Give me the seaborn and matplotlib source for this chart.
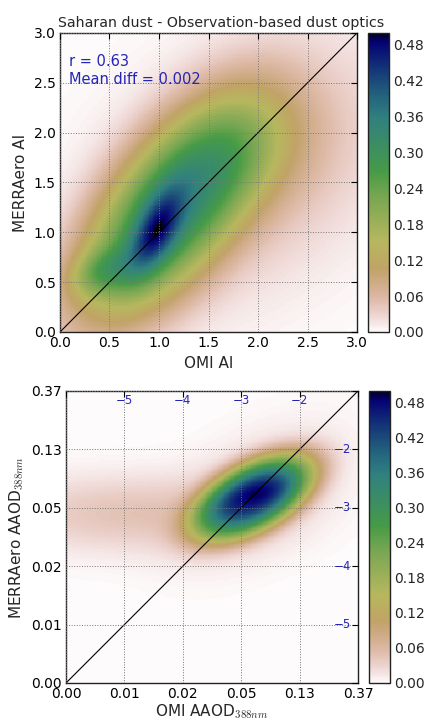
import numpy as np
import matplotlib
matplotlib.use("Agg")
import matplotlib.pyplot as plt
import seaborn as sns

sns.set_style("white")
plt.rcParams["font.family"] = ["DejaVu Sans"]
plt.rcParams["mathtext.fontset"] = "cm"

# --- Aerosol index panel: density blobs
# centre (x, y), spread (x, y), correlation, peak height, profile sharpness
ai_mx = [1.10, 0.97, 0.42, 1.90, 1.90]
ai_my = [1.20, 1.00, 0.60, 1.85, 1.60]
ai_sx = [0.68, 0.19, 0.22, 0.50, 1.00]
ai_sy = [0.80, 0.30, 0.17, 0.45, 0.90]
ai_rho = [0.62, 0.60, 0.30, 0.20, 0.40]
ai_amp = [0.28, 0.19, 0.10, 0.06, 0.05]
ai_shape = [1.2, 1.0, 1.0, 1.0, 1.0]
ai_ticks = [0.0, 0.5, 1.0, 1.5, 2.0, 2.5, 3.0]
ai_ticklabels = ["0.0", "0.5", "1.0", "1.5", "2.0", "2.5", "3.0"]

# --- AAOD panel, in ln(AAOD) space
aaod_mx = [-2.80, -2.72, -5.00, -2.70]
aaod_my = [-2.82, -2.75, -3.10, -2.75]
aaod_sx = [0.82, 0.40, 1.50, 0.95]
aaod_sy = [0.58, 0.22, 0.45, 0.75]
aaod_rho = [0.55, 0.50, 0.00, 0.45]
aaod_amp = [0.38, 0.065, 0.045, 0.035]
aaod_shape = [1.6, 1.0, 1.0, 1.0]
ln_ticks = [-6, -5, -4, -3, -2, -1]
aaod_ticklabels = ["0.00", "0.01", "0.02", "0.05", "0.13", "0.37"]
ln_inner_labels = [-5, -4, -3, -2]

cbar_ticks = [0.00, 0.06, 0.12, 0.18, 0.24, 0.30, 0.36, 0.42, 0.48]
stats_text = ["r = 0.63", "Mean diff = 0.002"]
title = "Saharan dust - Observation-based dust optics"

N = 240
VMAX = 0.5
TEXT_BLUE = "#2525b5"


def density(lo, hi, mx, my, sx, sy, rho, amp, shape):
    c = lo + (np.arange(N) + 0.5) * (hi - lo) / N
    gx, gy = np.meshgrid(c, c)
    z = np.zeros_like(gx)
    for m1, m2, s1, s2, r, a, p in zip(mx, my, sx, sy, rho, amp, shape):
        dx = (gx - m1) / s1
        dy = (gy - m2) / s2
        q = (dx ** 2 - 2 * r * dx * dy + dy ** 2) / (1 - r ** 2)
        z += a * np.exp(-0.5 * q ** p)
    return z


def panel(ax, cax, z, lo, hi, ticks, labels):
    sns.heatmap(z, ax=ax, cbar_ax=cax, cmap="gist_earth_r", vmin=0, vmax=VMAX,
                xticklabels=False, yticklabels=False, rasterized=True,
                cbar_kws={"ticks": cbar_ticks, "format": "%.2f"})
    ax.set_xlim(0, N)
    ax.set_ylim(0, N)
    pos = (np.array(ticks, dtype=float) - lo) / (hi - lo) * N
    ax.set_xticks(pos)
    ax.set_xticklabels(labels, rotation=0)
    ax.set_yticks(pos)
    ax.set_yticklabels(labels, rotation=0)
    ax.tick_params(direction="in", length=4, width=0.8, labelsize=10,
                   colors="black", pad=3, top=True, right=True)
    ax.grid(True, linestyle=":", color="#777777", linewidth=0.7)
    ax.set_axisbelow(False)
    for s in ax.spines.values():
        s.set_visible(True)
        s.set_color("#222222")
        s.set_linewidth(1.0)
    ax.plot([0, N], [0, N], color="black", linewidth=0.8)
    cbar = ax.collections[0].colorbar
    cbar.outline.set_visible(True)
    cbar.outline.set_linewidth(1.0)
    cbar.outline.set_edgecolor("#222222")
    cax.tick_params(direction="in", length=4, labelsize=10, pad=3)
    return pos


fig = plt.figure(figsize=(4.24, 7.2), dpi=100)

ax1 = fig.add_axes([0.1415, 0.5389, 0.7005, 0.4153])
cax1 = fig.add_axes([0.868, 0.5389, 0.0495, 0.4153])
z1 = density(0.0, 3.0, ai_mx, ai_my, ai_sx, ai_sy, ai_rho, ai_amp, ai_shape)
panel(ax1, cax1, z1, 0.0, 3.0, ai_ticks, ai_ticklabels)
ax1.set_xlabel("OMI AI", fontsize=11, labelpad=4)
ax1.set_ylabel("MERRAero AI", fontsize=11, labelpad=4)
ax1.text(0.03, 0.905, stats_text[0], transform=ax1.transAxes, color=TEXT_BLUE,
         fontsize=10.5, va="center")
ax1.text(0.03, 0.845, stats_text[1], transform=ax1.transAxes, color=TEXT_BLUE,
         fontsize=10.5, va="center")
fig.text(0.522, 0.968, title, ha="center", va="center", fontsize=10.2)

ax2 = fig.add_axes([0.1557, 0.0514, 0.6887, 0.4056])
cax2 = fig.add_axes([0.870, 0.0514, 0.0495, 0.4056])
z2 = density(-6.0, -1.0, aaod_mx, aaod_my, aaod_sx, aaod_sy, aaod_rho, aaod_amp,
             aaod_shape)
panel(ax2, cax2, z2, -6.0, -1.0, ln_ticks, aaod_ticklabels)
ax2.set_xlabel("OMI AAOD$_{388nm}$", fontsize=11, labelpad=1)
ax2.set_ylabel("MERRAero AAOD$_{388nm}$", fontsize=11, labelpad=4)
for v in ln_inner_labels:
    p = (v + 6.0) / 5.0 * N
    ax2.text(p, N * 0.968, "\u2212%d" % abs(v), color=TEXT_BLUE, fontsize=8.5,
             ha="center", va="center")
    ax2.text(N * 0.975, p, "\u2212%d" % abs(v), color=TEXT_BLUE, fontsize=8.5,
             ha="right", va="center")

fig.savefig("out.png", dpi=100)
